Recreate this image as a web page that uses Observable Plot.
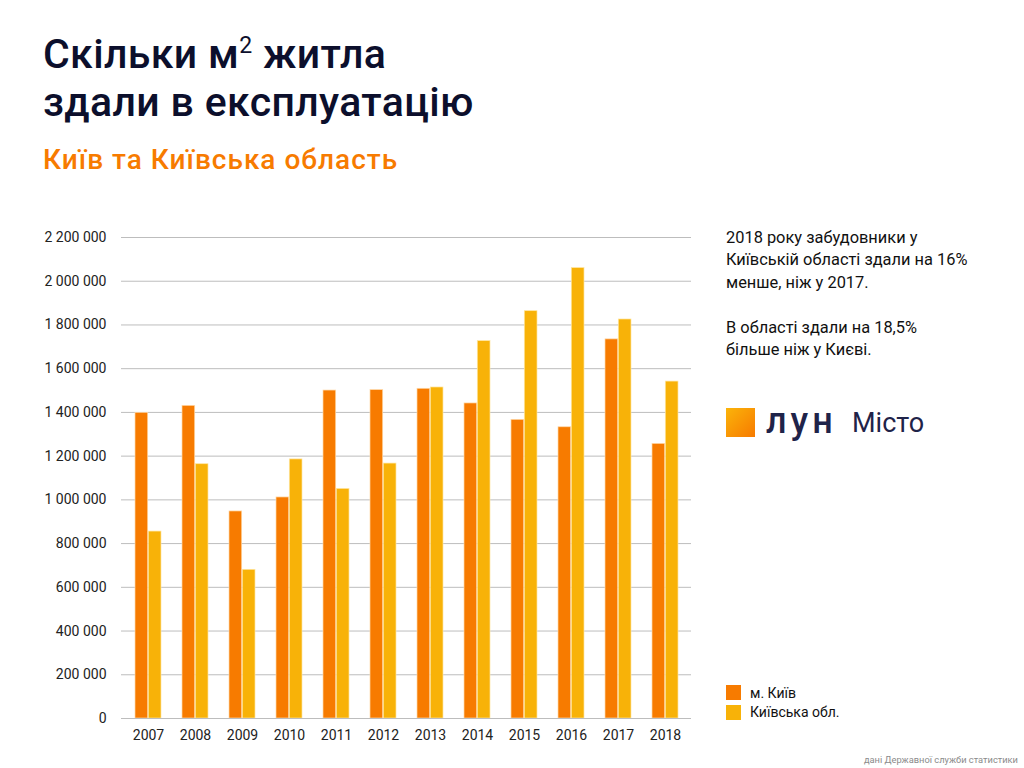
<!DOCTYPE html>
<html>
<head>
<meta charset="utf-8">
<script src="https://cdn.jsdelivr.net/npm/d3@7"></script>
<script src="https://cdn.jsdelivr.net/npm/@observablehq/plot@0.6"></script>
<style>
  html, body { margin: 0; padding: 0; background: #fff; }
  body { width: 1024px; height: 768px; position: relative; overflow: hidden; font-family: Roboto, "Noto Sans", sans-serif; }
  .title { position: absolute; left: 43px; top: 30px; font-size: 41px; font-weight: 500; line-height: 48px; color: #0c0f2c; letter-spacing: 0.35px; white-space: nowrap; }
  .title sup { font-size: 23px; vertical-align: 15px; line-height: 0; font-weight: 400; }
  .subtitle { position: absolute; left: 43px; top: 146px; font-size: 28px; line-height: 1; font-weight: 500; color: #f77b00; letter-spacing: 1px; white-space: nowrap; }
  .note { position: absolute; left: 726px; top: 227px; font-size: 16.4px; line-height: 22.4px; color: #111; white-space: nowrap; }
  .logo { position: absolute; left: 726px; top: 408px; height: 30px; }
  .logo .sq { position: absolute; left: 0; top: 0; width: 29px; height: 29px; background: linear-gradient(135deg, #fbb40a 0%, #f77a00 100%); }
  .logo .lun { position: absolute; left: 40px; top: -5px; font-size: 36px; line-height: 1; font-weight: 500; color: #1f2349; letter-spacing: 4px; white-space: nowrap; }
  .logo .misto { position: absolute; left: 126px; top: 2px; font-size: 27px; line-height: 1; font-weight: 400; color: #1f2349; white-space: nowrap; }
  .legend { position: absolute; left: 726px; top: 683px; font-size: 14px; color: #111; }
  .legend .item { display: flex; align-items: center; height: 19.5px; }
  .legend .sw { width: 15px; height: 15px; margin-right: 9px; }
  .caption { position: absolute; right: 6px; top: 755px; font-size: 9.3px; line-height: 1; color: #8a8a8a; white-space: nowrap; }
  #chart { position: absolute; left: 0; top: 220px; }
</style>
</head>
<body>
<div class="title">Скільки м<sup>2</sup> житла<br>здали в експлуатацію</div>
<div class="subtitle">Київ та Київська область</div>
<div class="note">2018 року забудовники у<br>Київській області здали на 16%<br>менше, ніж у 2017.<br><br>В області здали на 18,5%<br>більше ніж у Києві.</div>
<div class="logo"><div class="sq"></div><div class="lun">лун</div><div class="misto">Місто</div></div>
<div class="legend" id="legend"></div>
<div class="caption">дані Державної служби статистики</div>
<div id="chart"></div>
<script>
const years = ["2007","2008","2009","2010","2011","2012","2013","2014","2015","2016","2017","2018"];
const kyiv = [1398000, 1430000, 947000, 1011000, 1500000, 1502000, 1508000, 1441000, 1366000, 1332000, 1734000, 1256000];
const oblast = [855000, 1163000, 680000, 1185000, 1050000, 1166000, 1514000, 1726000, 1863000, 2060000, 1825000, 1541000];
const seriesNames = ["м. Київ", "Київська обл."];
const seriesColors = ["#f77b00", "#f8b208"];
const yTicks = [0, 200000, 400000, 600000, 800000, 1000000, 1200000, 1400000, 1600000, 1800000, 2000000, 2200000];

const kyivData = years.map((y, i) => ({year: y, value: kyiv[i]}));
const oblData = years.map((y, i) => ({year: y, value: oblast[i]}));
const fmt = d => d3.format(",")(d).replace(/,/g, " ");

const chart = Plot.plot({
  width: 710,
  height: 540,
  marginLeft: 121,
  marginRight: 19,
  marginTop: 17,
  marginBottom: 42,
  style: {fontFamily: "Roboto, sans-serif", fontSize: "14px", color: "#222", background: "transparent"},
  x: {domain: years, paddingInner: 0.4526, paddingOuter: 0.2263, label: null, tickSize: 0, tickPadding: 12},
  y: {domain: [0, 2200000], ticks: yTicks, tickFormat: fmt, label: null, tickSize: 0, tickPadding: 15},
  marks: [
    Plot.gridY(yTicks, {stroke: "#bdbdbd", strokeOpacity: 1, strokeWidth: 1}),
    Plot.barY(kyivData, {x: "year", y: "value", fill: seriesColors[0], insetRight: 13.3, stroke: "#ffd9a8", strokeWidth: 0.7}),
    Plot.barY(oblData, {x: "year", y: "value", fill: seriesColors[1], insetLeft: 13.3, stroke: "#ffe6a0", strokeWidth: 0.7}),
    Plot.ruleY([0], {stroke: "#bdbdbd"})
  ]
});
document.getElementById("chart").appendChild(chart);

const legend = document.getElementById("legend");
seriesNames.forEach((n, i) => {
  const it = document.createElement("div");
  it.className = "item";
  it.innerHTML = `<div class="sw" style="background:${seriesColors[i]}"></div><span>${n}</span>`;
  legend.appendChild(it);
});
</script>
</body>
</html>
